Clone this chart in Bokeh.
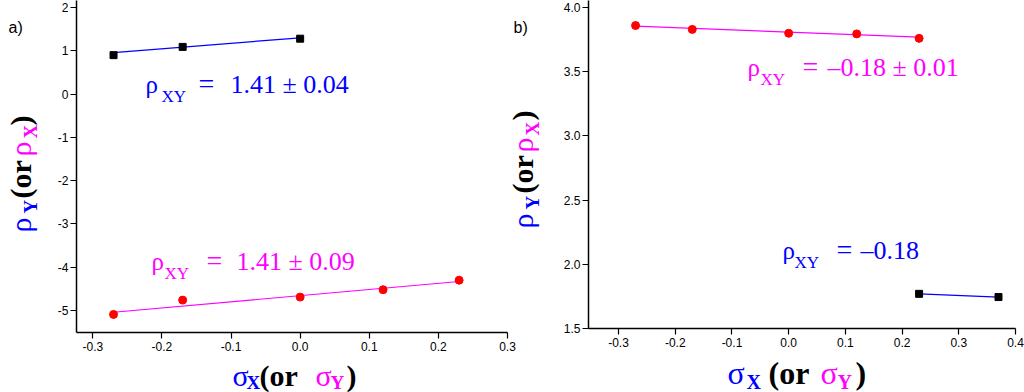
import math
from bokeh.plotting import figure
from bokeh.layouts import row, column
from bokeh.models import Label, FixedTicker, NumeralTickFormatter, Range1d
from bokeh.core.properties import value
from bokeh.embed import file_html
from bokeh.resources import INLINE

# ---------------- data ----------------
# panel a)
a_sq_x = [-0.27, -0.17, 0.0]
a_sq_y = [0.90, 1.09, 1.28]
a_sq_fit_x = [-0.27, 0.0]
a_sq_fit_y = [0.96, 1.30]
a_ci_x = [-0.27, -0.17, 0.0, 0.12, 0.23]
a_ci_y = [-5.09, -4.76, -4.69, -4.52, -4.30]
a_ci_fit_x = [-0.27, 0.23]
a_ci_fit_y = [-5.04, -4.33]
a_xticks = [-0.3, -0.2, -0.1, 0.0, 0.1, 0.2, 0.3]
a_yticks = [-5, -4, -3, -2, -1, 0, 1, 2]

# panel b)
b_ci_x = [-0.27, -0.17, 0.0, 0.12, 0.23]
b_ci_y = [3.86, 3.83, 3.80, 3.795, 3.76]
b_ci_fit_x = [-0.27, 0.23]
b_ci_fit_y = [3.855, 3.77]
b_sq_x = [0.23, 0.37]
b_sq_y = [1.77, 1.745]
b_xticks = [-0.3, -0.2, -0.1, 0.0, 0.1, 0.2, 0.3, 0.4]
b_yticks = [1.5, 2.0, 2.5, 3.0, 3.5, 4.0]

BLUE = "#0000ff"
MAG = "#ff00ff"
RED = "#ff0000"
SERIF = "Liberation Serif"
SANS = "Liberation Sans"
A = math.pi / 2
K = 0.25   # baseline correction (fraction of font size)

H = 392
# panel a geometry
TOP_A = 355
YA_W = 40
XB0 = 545            # where the right column starts
MA_W = XB0 - YA_W
A_X0, A_X1 = -0.3236, 0.3
A_SCALE = (507 - 76) / (A_X1 - A_X0)
A_XEND = A_X0 + (XB0 - 76) / A_SCALE
# panel b geometry
TOP_B = 351
MB_W = 1024 - XB0


def style(p, xt, yt, xfmt, yfmt):
    p.xgrid.visible = False
    p.ygrid.visible = False
    p.outline_line_color = None
    for ax in (p.xaxis[0], p.yaxis[0]):
        ax.axis_line_width = 1.5
        ax.axis_line_color = "black"
        ax.major_tick_line_width = 1.2
        ax.major_tick_in = 0
        ax.major_tick_out = 6
        ax.minor_tick_line_color = None
        ax.major_label_text_font = SANS
        ax.major_label_text_font_size = "12px"
        ax.major_label_text_color = "black"
    p.xaxis[0].ticker = FixedTicker(ticks=xt)
    p.yaxis[0].ticker = FixedTicker(ticks=yt)
    p.xaxis[0].formatter = NumeralTickFormatter(format=xfmt)
    p.yaxis[0].formatter = NumeralTickFormatter(format=yfmt)
    p.xaxis[0].major_label_standoff = 3
    p.yaxis[0].major_label_standoff = 2


def text_fig(w, h):
    f = figure(frame_width=w, frame_height=h, x_range=Range1d(0, w), y_range=Range1d(h, 0),
               min_border=0, min_border_left=0, min_border_right=0,
               min_border_top=0, min_border_bottom=0,
               x_axis_location=None, y_axis_location=None,
               output_backend="svg", toolbar_location=None, title=None)
    f.xgrid.visible = False
    f.ygrid.visible = False
    f.outline_line_color = None
    return f


def put(f, ox, oy, cx, cy, t, color="black", size=27, bold=False, font=SERIF, angle=0.0):
    if angle:
        cx -= K * size
    else:
        cy -= K * size
    f.text(x=[cx - ox], y=[cy - oy], text=[t], text_color=color,
           text_font=value(font), text_font_size=value(f"{size}px"),
           text_font_style="bold" if bold else "normal",
           text_align="left", text_baseline="alphabetic", angle=angle)


def make_lab(p, fl, fb):
    def lab(cx, cy, t, color="black", size=27, bold=False, font=SERIF, angle=0.0):
        if angle:
            cx -= K * size
        else:
            cy -= K * size
        p.add_layout(Label(x=cx - fl, y=fb - cy, x_units="screen", y_units="screen",
                           text=t, text_color=color, text_font=font,
                           text_font_size=f"{size}px",
                           text_font_style="bold" if bold else "normal",
                           text_align="left", text_baseline="alphabetic",
                           angle=angle))
    return lab


# ---------------- panel a ----------------
pa = figure(width=MA_W, height=TOP_A, x_range=(A_X0, A_XEND), y_range=(-5.508, 2.162),
            min_border_left=76 - YA_W, min_border_right=0, min_border_top=0,
            min_border_bottom=TOP_A - 332, output_backend="svg", toolbar_location=None,
            title=None)
style(pa, a_xticks, a_yticks, "0.0", "0")
pa.xaxis[0].bounds = (A_X0, A_X1)
pa.line(a_sq_fit_x, a_sq_fit_y, line_color=BLUE, line_width=1.2)
pa.line(a_ci_fit_x, a_ci_fit_y, line_color=MAG, line_width=1.2)
pa.scatter(a_sq_x, a_sq_y, marker="square", size=7, fill_color="black", line_color="black")
pa.scatter(a_ci_x, a_ci_y, marker="circle", size=8, fill_color=RED, line_color=RED)

la = make_lab(pa, 76, 332)
la(145, 90, "ρ", BLUE, 25)
la(161, 100, "XY", BLUE, 17)
la(198, 90, "=", BLUE, 28)
la(230, 90, "1.41 ± 0.04", BLUE, 26)
la(151, 267, "ρ", MAG, 25)
la(164, 277, "XY", MAG, 17)
la(206, 267, "=", MAG, 28)
la(236, 267, "1.41 ± 0.09", MAG, 26)
# panel b's tag and y-axis title (space left of panel b's axis)
la(513, 31, "b)", size=16, font=SANS)
la(529, 228, "ρ", BLUE, 30, angle=A)
la(537, 209, "Y", BLUE, 19, True, angle=A)
la(529, 193, "(or ", "black", 30, True, angle=A)
la(529, 152, "ρ", MAG, 30, angle=A)
la(537, 135, "X", MAG, 19, True, angle=A)
la(529, 120, ")", "black", 30, True, angle=A)

ya = text_fig(YA_W, TOP_A)
put(ya, 0, 0, 8, 31, "a)", size=16, font=SANS)
put(ya, 0, 0, 27, 232, "ρ", BLUE, 30, angle=A)
put(ya, 0, 0, 35, 213, "Y", BLUE, 19, True, angle=A)
put(ya, 0, 0, 27, 198, "(or ", "black", 30, True, angle=A)
put(ya, 0, 0, 27, 156, "ρ", MAG, 30, angle=A)
put(ya, 0, 0, 35, 138, "X", MAG, 19, True, angle=A)
put(ya, 0, 0, 27, 125, ")", "black", 30, True, angle=A)

xla = text_fig(XB0, H - TOP_A)
put(xla, 0, TOP_A, 232, 382, "σ", BLUE, 30)
put(xla, 0, TOP_A, 246, 387, "X", BLUE, 19, True)
put(xla, 0, TOP_A, 259, 382, "(or ", "black", 30, True)
put(xla, 0, TOP_A, 315, 382, "σ", MAG, 30)
put(xla, 0, TOP_A, 330, 387, "Y", MAG, 19, True)
put(xla, 0, TOP_A, 346, 382, ")", "black", 30, True)

# ---------------- panel b ----------------
pb = figure(width=MB_W, height=TOP_B, x_range=(-0.353, 0.4), y_range=(1.5, 4.055),
            min_border_left=588 - XB0, min_border_right=1024 - 1015, min_border_top=0,
            min_border_bottom=TOP_B - 328, output_backend="svg", toolbar_location=None,
            title=None)
style(pb, b_xticks, b_yticks, "0.0", "0.0")
pb.line(b_ci_fit_x, b_ci_fit_y, line_color=MAG, line_width=1.2)
pb.line(b_sq_x, b_sq_y, line_color=BLUE, line_width=1.2)
pb.scatter(b_ci_x, b_ci_y, marker="circle", size=8, fill_color=RED, line_color=RED)
pb.scatter(b_sq_x, b_sq_y, marker="square", size=7, fill_color="black", line_color="black")

lb = make_lab(pb, 588, 328)
lb(747, 73, "ρ", MAG, 25)
lb(760, 83, "XY", MAG, 17)
lb(802, 73, "=", MAG, 28)
lb(827, 73, "–0.18 ± 0.01", MAG, 26)
lb(782, 256, "ρ", BLUE, 25)
lb(794, 266, "XY", BLUE, 17)
lb(836, 256, "=", BLUE, 28)
lb(860, 256, "–0.18", BLUE, 26)

xlb = text_fig(MB_W, H - TOP_B)
put(xlb, XB0, TOP_B, 727, 380, "σ", BLUE, 32)
put(xlb, XB0, TOP_B, 746, 386, "X", BLUE, 20, True)
put(xlb, XB0, TOP_B, 768, 380, "(or ", "black", 32, True)
put(xlb, XB0, TOP_B, 820, 380, "σ", MAG, 32)
put(xlb, XB0, TOP_B, 837, 386, "Y", MAG, 20, True)
put(xlb, XB0, TOP_B, 855, 380, ")", "black", 32, True)

layout = row(column(row(ya, pa), xla), column(row(pb), xlb))
open("out.html", "w").write(file_html(layout, INLINE))
